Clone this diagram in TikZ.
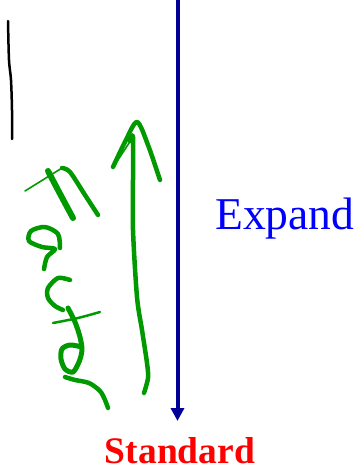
\documentclass[tikz,border=0pt]{standalone}
\usepackage{fontspec}
\setmainfont{Liberation Serif}
\usetikzlibrary{arrows.meta}
\definecolor{navyline}{RGB}{0,0,150}
\definecolor{pen}{RGB}{0,153,0}
\tikzset{
  navyarrow/.style={draw=navyline,line width=4pt,-{Triangle[length=13pt,width=13pt]}},
  ink/.style={draw=pen,line width=4.5pt,line cap=round,line join=round},
  thinink/.style={draw=pen,line width=1.6pt,line cap=round,line join=round},
  blackink/.style={draw=black,line width=2.5pt,line cap=round,line join=round},
  expandlbl/.style={text=blue,font=\fontsize{45.5}{50}\selectfont,inner sep=0pt,anchor=base west},
  stdlbl/.style={text=red,font=\fontsize{37.5}{42}\selectfont\bfseries,inner sep=0pt,anchor=base}
}
\begin{document}
\begin{tikzpicture}[x=1pt,y=-1pt]
\useasboundingbox (0,0) rectangle (358,472);
% main arrow
\coordinate (top) at (177.5,0);
\coordinate (tip) at (177.5,421);
\draw[navyarrow] (top) -- (tip);
% labels
\node[expandlbl] (expand) at (215,229) {Expand};
\node[stdlbl] (standard) at (180,463) {Standard};
% black pen stroke
\draw[blackink] plot[smooth] coordinates {(8,21) (9,60) (11,80) (12,110) (12,139)};
% green arrow
\draw[ink] plot[smooth] coordinates {(113,167) (125,142) (137,122) (148,145) (160,180)};
\draw[thinink] (114,166) -- (133,137);
\draw[ink] plot[smooth] coordinates {(130,141) (133,137) (133,180) (133,230) (137,297) (142,330) (147,363) (148,378) (144,393)};
% F
\draw[thinink] (25,191) -- (62,168);
\draw[ink] plot[smooth] coordinates {(62,168) (70,172) (85,195) (98,215)};
\draw[draw=pen,line width=6pt,line cap=round] plot[smooth] coordinates {(48,171) (58,190) (66,205) (73,218)};
% a
\draw[ink] plot[smooth] coordinates {(60,248) (58,234) (45,227) (31,231) (29,241) (42,247) (55,249) (47,257) (44,269)};
% c
\draw[ink] plot[smooth] coordinates {(70,280) (58,278) (48,288) (48,298) (55,306) (63,310)};
% t cross
\draw[thinink,line width=2.5pt] plot[smooth] coordinates {(53,323) (78,318) (100,312)};
% t stem and o
\draw[ink,line width=5pt] plot[smooth] coordinates {(68,308) (75,322) (80,337) (82,350) (79,362) (73,372) (65,369) (61,359) (62,349) (70,345) (82,347)};
% r
\draw[ink] plot[smooth] coordinates {(65,377) (75,380) (89,383) (100,391) (105,400) (108,408)};
\end{tikzpicture}
\end{document}
